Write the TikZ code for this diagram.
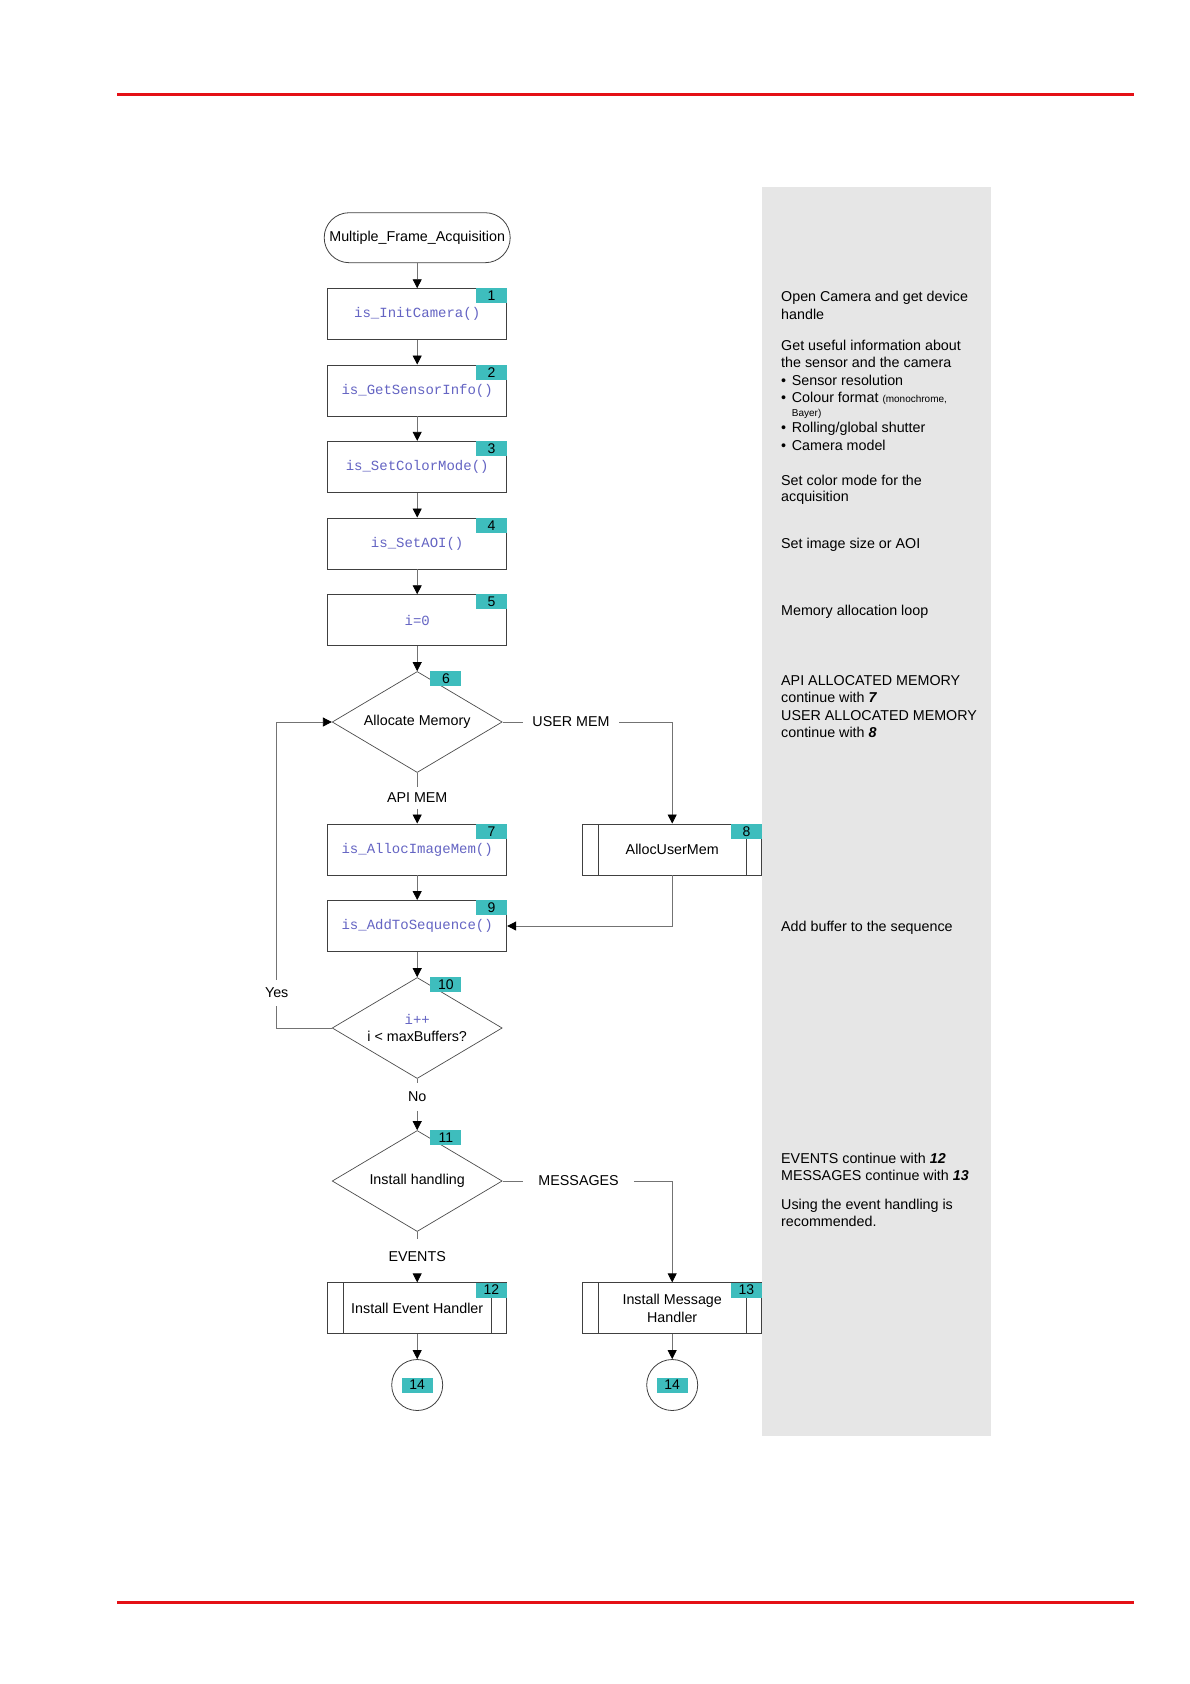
\documentclass[tikz,border=0pt]{standalone}
\usepackage{fontspec}
\setmainfont{Liberation Sans}
\setmonofont{Liberation Mono}
\usetikzlibrary{arrows.meta,shapes.geometric}
\definecolor{badgeteal}{RGB}{62,189,189}
\definecolor{codeblue}{RGB}{100,100,195}
\definecolor{panelgray}{RGB}{230,230,230}
\definecolor{pagered}{RGB}{228,16,22}
\newcommand\myfs{\fontsize{14.3}{17.3}\selectfont}
\newcommand\mysmall{\fontsize{10}{12}\selectfont}
\newcommand\bul{\makebox[10.7pt][l]{•}}
\begin{document}
\begin{tikzpicture}[x=1pt,y=-1pt,
  proc/.style={draw=black!75, line width=0.9pt, fill=white, minimum width=179pt,
    minimum height=51pt, inner sep=0pt, text=codeblue, font=\fontsize{14}{16}\ttfamily},
  predef/.style={proc, text=black, font=\myfs, align=center,
    path picture={\draw[black!75, line width=0.8pt]
      ([xshift=15.6pt]path picture bounding box.north west) -- ([xshift=15.6pt]path picture bounding box.south west)
      ([xshift=-15.6pt]path picture bounding box.north east) -- ([xshift=-15.6pt]path picture bounding box.south east);}},
  decision/.style={diamond, aspect=1.68, draw=black!70, line width=0.7pt, fill=white, minimum width=170pt,
    minimum height=101pt, inner sep=0pt, font=\myfs, align=center},
  badge/.style={fill=badgeteal, minimum width=31pt, minimum height=15pt, inner sep=0pt,
    font=\fontsize{14}{14}\selectfont},
  conn/.style={draw=black!55, line width=0.8pt},
  arr/.style={conn, -{Triangle[length=9pt,width=9pt,color=black]}},
  lbl/.style={font=\myfs, inner ysep=6pt, inner xsep=10pt},
  note/.style={anchor=base west, inner sep=0pt, font=\myfs},
  endc/.style={circle, draw=black!75, line width=0.8pt, fill=white, minimum size=51pt, inner sep=0pt}
]
\useasboundingbox (0,0) rectangle (1190,1684);
% page rules
\draw[pagered, line width=3pt] (117,94) -- (1134,94);
\draw[pagered, line width=3pt] (117,1602) -- (1134,1602);
% side panel
\fill[panelgray] (761.7,187) rectangle (990.7,1435.7);

% nodes
\node[draw=black!75, line width=0.8pt, rounded corners=25pt, minimum width=186pt,
  minimum height=50pt, inner sep=0pt, font=\myfs] (start) at (417.2,237.7) {Multiple\_Frame\_Acquisition};
\node[proc] (b1) at (417.2,314.2) {is\_InitCamera()};
\node[proc] (b2) at (417.2,390.5) {is\_GetSensorInfo()};
\node[proc] (b3) at (417.2,466.8) {is\_SetColorMode()};
\node[proc] (b4) at (417.2,543.5) {is\_SetAOI()};
\node[proc] (b5) at (417.2,620.2) {i=0};
\node[decision] (d6) at (417.2,722) {Allocate Memory};
\node[proc] (b7) at (417.2,849.5) {is\_AllocImageMem()};
\node[predef] (b8) at (672.2,849.5) {AllocUserMem};
\node[proc] (b9) at (417.2,926) {is\_AddToSequence()};
\node[decision] (d10) at (417.2,1028) {{\fontsize{14}{16.7}\ttfamily\color{codeblue}i++}\\i < maxBuffers?};
\node[decision] (d11) at (417.2,1181) {Install handling};
\node[predef] (b12) at (417.2,1308.3) {Install Event Handler};
\node[predef] (b13) at (672.2,1308.3) {Install Message\\Handler};
\node[endc] (c1) at (417.2,1385) {};
\node[endc] (c2) at (672.2,1385) {};

% badges
\node[badge, anchor=north east] (n1) at (b1.north east) {1};
\node[badge, anchor=north east] (n2) at (b2.north east) {2};
\node[badge, anchor=north east] (n3) at (b3.north east) {3};
\node[badge, anchor=north east] (n4) at (b4.north east) {4};
\node[badge, anchor=north east] (n5) at (b5.north east) {5};
\node[badge, anchor=north west] (n6) at ([xshift=13pt]d6.north) {6};
\node[badge, anchor=north east] (n7) at (b7.north east) {7};
\node[badge, anchor=north east] (n8) at (b8.north east) {8};
\node[badge, anchor=north east] (n9) at (b9.north east) {9};
\node[badge, anchor=north west] (n10) at ([xshift=13pt]d10.north) {10};
\node[badge, anchor=north west] (n11) at ([xshift=13pt]d11.north) {11};
\node[badge, anchor=north east] (n12) at (b12.north east) {12};
\node[badge, anchor=north east] (n13) at (b13.north east) {13};
\node[badge] (n14a) at (c1) {14};
\node[badge] (n14b) at (c2) {14};

% branch labels
\node[lbl, inner xsep=9.5pt] (um) at (571,722) {USER MEM};
\node[lbl] (am) at (417.2,797.7) {API MEM};
\node[lbl, inner xsep=4pt, inner ysep=8pt] (yes) at (276.7,993) {Yes};
\node[lbl, inner ysep=9pt] (no) at (417.2,1096.7) {No};
\node[lbl, inner xsep=15pt] (msg) at (578.6,1181) {MESSAGES};
\node[lbl, inner ysep=12pt] (ev) at (417.2,1256.7) {EVENTS};
\coordinate (lc) at (276.7,1028);

% connectors
\draw[arr] (start.south) -- (b1.north);
\draw[arr] (b1.south) -- (b2.north);
\draw[arr] (b2.south) -- (b3.north);
\draw[arr] (b3.south) -- (b4.north);
\draw[arr] (b4.south) -- (b5.north);
\draw[arr] (b5.south) -- (d6.north);
\draw[conn] (d6.east) -- (um.west);
\draw[arr] (um.east) -| (b8.north);
\draw[conn] (d6.south) -- (am.north);
\draw[arr] (am.south) -- (b7.north);
\draw[arr] (b7.south) -- (b9.north);
\draw[arr] (b8.south) |- (b9.east);
\draw[arr] (b9.south) -- (d10.north);
\draw[conn] (d10.west) -- (lc) -- (yes.south);
\draw[arr] (yes.north) |- (d6.west);
\draw[conn] (d10.south) -- (no.north);
\draw[arr] (no.south) -- (d11.north);
\draw[conn] (d11.east) -- (msg.west);
\draw[arr] (msg.east) -| (b13.north);
\draw[conn] (d11.south) -- (ev.north);
\draw[arr] (ev.south) -- (b12.north);
\draw[arr] (b12.south) -- (c1.north);
\draw[arr] (b13.south) -- (c2.north);

% side notes
\node[note] at (781,301.7) {Open Camera and get device};
\node[note] at (781,319) {handle};
\node[note] at (781,350) {Get useful information about};
\node[note] at (781,367.3) {the sensor and the camera};
\node[note] at (781,385) {\bul Sensor resolution};
\node[note] at (781,402.7) {\bul Colour format {\mysmall (monochrome,}};
\node[note] at (791.7,416) {\mysmall Bayer)};
\node[note] at (781,432.3) {\bul Rolling/global shutter};
\node[note] at (781,450) {\bul Camera model};
\node[note] at (781,485) {Set color mode for the};
\node[note] at (781,501.7) {acquisition};
\node[note] at (781,548.3) {Set image size or AOI};
\node[note] at (781,615) {Memory allocation loop};
\node[note] at (781,685) {API ALLOCATED MEMORY};
\node[note] at (781,702.3) {continue with \textbf{\textit{7}}};
\node[note] at (781,720) {USER ALLOCATED MEMORY};
\node[note] at (781,737.3) {continue with \textbf{\textit{8}}};
\node[note] at (781,931) {Add buffer to the sequence};
\node[note] at (781,1163.3) {EVENTS continue with \textbf{\textit{12}}};
\node[note] at (781,1180.7) {MESSAGES continue with \textbf{\textit{13}}};
\node[note] at (781,1209.5) {Using the event handling is};
\node[note] at (781,1226.7) {recommended.};
\end{tikzpicture}
\end{document}
